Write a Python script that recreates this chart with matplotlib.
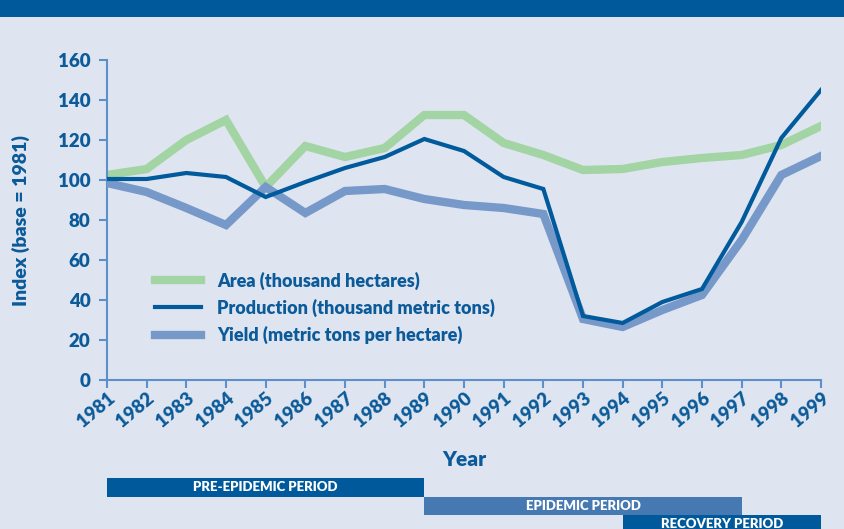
import matplotlib.pyplot as plt
from matplotlib.patches import Rectangle
from matplotlib.transforms import blended_transform_factory

years = list(range(1981, 2000))
area = [102.5, 105.5, 120, 130, 96.5, 117, 111.5, 116, 132.5, 132.5,
        118.5, 112.5, 105, 105.5, 109, 111, 112.5, 117.5, 127]
production = [100.5, 100.5, 103.5, 101.5, 91.5, 99, 106, 111.5, 120.5, 114.5,
              101.5, 95.5, 32, 28.5, 39, 45.5, 79, 121, 145]
yield_ = [98.5, 94, 86, 77.5, 96.5, 83.5, 94.5, 95.5, 90.5, 87.5,
          86, 83, 30.5, 26.5, 35, 42.5, 70, 102.5, 112]

series_labels = ["Area (thousand hectares)",
                 "Production (thousand metric tons)",
                 "Yield (metric tons per hectare)"]
periods = [("PRE-EPIDEMIC PERIOD", 1981, 1989),
           ("EPIDEMIC PERIOD", 1989, 1997),
           ("RECOVERY PERIOD", 1994, 1999)]

BG = "#dfe5f0"
DARK = "#00599b"
TEXT = "#0b5a99"
SPINE = "#5d8fca"
W = "heavy"
plt.rcParams["font.family"] = ["Lato", "DejaVu Sans"]

fig = plt.figure(figsize=(8.45, 5.29), dpi=100, facecolor=BG)
# title banner (cut off at top)
fig.patches.append(Rectangle((0, 1 - 17 / 529), 1, 17 / 529, transform=fig.transFigure,
                             facecolor=DARK, edgecolor="none"))

ax = fig.add_axes([107 / 845, 149 / 529, 714 / 845, 320 / 529])
ax.set_facecolor(BG)

l1, = ax.plot(years, area, color="#a3d4a3", lw=6, solid_joinstyle="miter", zorder=2)
l2, = ax.plot(years, production, color="#005a9c", lw=3, solid_joinstyle="miter", zorder=4)
l3, = ax.plot(years, yield_, color="#7799c9", lw=6, solid_joinstyle="miter", zorder=3)

ax.set_xlim(1981, 1999)
ax.set_ylim(0, 160)
ax.set_yticks(range(0, 161, 20))
ax.set_xticks(years)
ax.set_xticklabels([str(y) for y in years], rotation=40, ha="right", va="top",
                   rotation_mode="anchor")
for s in ["top", "right"]:
    ax.spines[s].set_visible(False)
for s in ["left", "bottom"]:
    ax.spines[s].set_color(SPINE)
    ax.spines[s].set_linewidth(1.5)
ax.tick_params(colors=SPINE, width=1.5, length=6, direction="out")
ax.tick_params(axis="y", pad=6)
ax.tick_params(axis="x", pad=1)
for lab in ax.get_xticklabels() + ax.get_yticklabels():
    lab.set_color(TEXT)
    lab.set_fontweight(W)
    lab.set_fontsize(13.5)

ax.set_xlabel("Year", color=TEXT, fontsize=15, fontweight=W, labelpad=14)
ax.set_ylabel("Index (base = 1981)", color=TEXT, fontsize=14, fontweight=W,
              labelpad=20)

leg = ax.legend([l1, l2, l3], series_labels, loc="upper left",
                bbox_to_anchor=(0.045, 0.39), frameon=False, handlelength=2.5,
                handletextpad=0.9, labelspacing=0.5,
                prop={"weight": W, "size": 13})
for t in leg.get_texts():
    t.set_color(TEXT)

# period bars below the axis
trans = blended_transform_factory(ax.transData, ax.transAxes)
bar_h = 18.3 / 320
tops = [-98.3 / 320, -116.6 / 320, -135 / 320]
colors = [DARK, "#4679b1", DARK]
for (name, x0, x1), top, c in zip(periods, tops, colors):
    ax.add_patch(Rectangle((x0, top - bar_h), x1 - x0, bar_h, transform=trans,
                           facecolor=c, edgecolor="none", clip_on=False))
    ax.text((x0 + x1) / 2, top - bar_h / 2, name, transform=trans, color="white",
            fontsize=9.5, fontweight=W, ha="center", va="center", clip_on=False)

fig.savefig("out.png", dpi=100, facecolor=BG)
